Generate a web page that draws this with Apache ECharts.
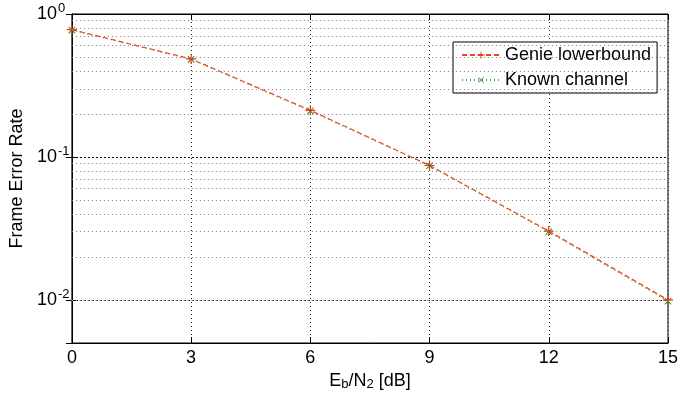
<!DOCTYPE html>
<html>
<head>
<meta charset="utf-8">
<script src="https://cdn.jsdelivr.net/npm/echarts@6/dist/echarts.min.js"></script>
<style>
  html, body { margin: 0; padding: 0; background: #fff; }
  #chart { width: 681px; height: 401px; }
</style>
</head>
<body>
<div id="chart"></div>
<script>
// Eb/N2 in dB
var snr = [0, 3, 6, 9, 12, 15]
// frame error rate
var genie = [0.777, 0.485, 0.212, 0.0872, 0.0303, 0.0100]
var known = [0.772, 0.482, 0.210, 0.0868, 0.0300, 0.0098]
// minor grid lines (2..9 x 10^k)
var minorGrid = [0.006, 0.007, 0.008, 0.009,
  0.02, 0.03, 0.04, 0.05, 0.06, 0.07, 0.08, 0.09,
  0.2, 0.3, 0.4, 0.5, 0.6, 0.7, 0.8, 0.9]

var font = '"Liberation Sans", Arial, Helvetica, sans-serif'
var plusPath = 'path://M-0.6,-5 h1.2 v4.4 h4.4 v1.2 h-4.4 v4.4 h-1.2 v-4.4 h-4.4 v-1.2 h4.4 z'

function pairs(ys) {
  return snr.map(function(x, i) { return [x, ys[i]] })
}

var chart = echarts.init(document.getElementById('chart'), null, { renderer: 'canvas' })

chart.setOption({
  animation: false,
  backgroundColor: '#fff',
  textStyle: { fontFamily: font },
  grid: {
    left: 67,
    right: 8,
    top: 14,
    bottom: 58,
    show: true,
    borderColor: '#000',
    borderWidth: 1
  },
  legend: {
    orient: 'vertical',
    left: 453,
    top: 42,
    backgroundColor: '#fff',
    borderColor: '#000',
    borderWidth: 1,
    borderRadius: 0,
    padding: [4, 6, 4, 8],
    itemGap: 7,
    itemWidth: 38,
    itemHeight: 9,
    textStyle: { fontSize: 18, color: '#000', fontFamily: font },
    data: ['Genie lowerbound', 'Known channel']
  },
  xAxis: [
    {
      type: 'value',
      min: 0,
      max: 15,
      interval: 3,
      name: '{n|E}{s|b}{n|/N}{s|2}{n| [dB]}',
      nameLocation: 'middle',
      nameGap: 25,
      nameTextStyle: {
        rich: {
          n: { fontSize: 18, color: '#000', fontFamily: font },
          s: { fontSize: 13, color: '#000', fontFamily: font, padding: [8, 0, 0, 0] }
        }
      },
      axisLine: { show: true, lineStyle: { color: '#000' } },
      axisTick: { show: true, inside: true, length: 6, lineStyle: { color: '#000' } },
      axisLabel: { fontSize: 18, color: '#000', margin: 6 },
      splitLine: { show: true, lineStyle: { type: [1, 3], color: '#222', width: 1 } }
    },
    {
      type: 'value',
      position: 'top',
      min: 0,
      max: 15,
      interval: 3,
      axisLine: { show: true, lineStyle: { color: '#000' } },
      axisTick: { show: true, inside: true, length: 6, lineStyle: { color: '#000' } },
      axisLabel: { show: false },
      splitLine: { show: false }
    }
  ],
  yAxis: [
    {
      type: 'log',
      logBase: 10,
      min: 0.005,
      max: 1,
      name: 'Frame Error Rate',
      nameLocation: 'middle',
      nameGap: 43,
      nameTextStyle: { fontSize: 18, color: '#000' },
      axisLine: { show: true, lineStyle: { color: '#000' } },
      axisTick: { show: true, inside: true, length: 6, lineStyle: { color: '#000' } },
      axisLabel: {
        margin: 35,
        align: 'left',
        formatter: function(v) {
          var e = Math.round(Math.log10(v))
          if (Math.abs(Math.log10(v) - e) > 1e-6) return ''
          return '{b|10}{s|' + e + '}'
        },
        rich: {
          b: { fontSize: 18, color: '#000', fontFamily: font },
          s: { fontSize: 13, color: '#000', fontFamily: font, padding: [0, 0, 11, 1] }
        }
      },
      splitLine: { show: true, lineStyle: { type: [2, 2], color: '#000', width: 1 } }
    },
    {
      type: 'log',
      logBase: 10,
      min: 0.005,
      max: 1,
      position: 'right',
      axisLine: { show: true, lineStyle: { color: '#000' } },
      axisTick: { show: true, inside: true, length: 6, lineStyle: { color: '#000' } },
      axisLabel: { show: false },
      splitLine: { show: false }
    }
  ],
  series: [
    {
      name: 'Known channel',
      type: 'line',
      data: pairs(known),
      symbol: plusPath,
      symbolRotate: 45,
      symbolSize: 9,
      showAllSymbol: true,
      color: '#3fae3f',
      lineStyle: { color: '#3fae3f', width: 1.2, type: [1, 3] },
      itemStyle: { color: '#2f9a2f', borderWidth: 0 },
      markLine: {
        silent: true,
        symbol: 'none',
        label: { show: false },
        lineStyle: { type: [1, 3], color: '#777', width: 1 },
        data: minorGrid.map(function(v) { return { yAxis: v } })
      },
      z: 2
    },
    {
      name: 'Genie lowerbound',
      type: 'line',
      data: pairs(genie),
      symbol: plusPath,
      symbolSize: 10,
      showAllSymbol: true,
      color: '#ee4422',
      lineStyle: { color: '#ee4422', width: 1.2, type: [5, 3] },
      itemStyle: { color: '#ee3311', borderWidth: 0 },
      z: 3
    }
  ]
})
</script>
</body>
</html>
